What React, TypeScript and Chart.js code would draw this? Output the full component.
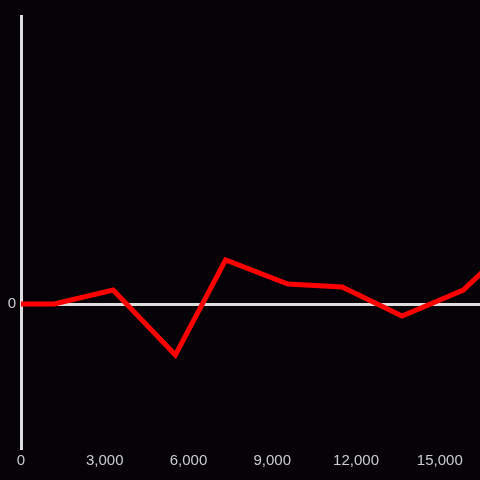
import React, { useEffect, useRef } from "react";
import { Chart, registerables } from "chart.js";

Chart.register(...registerables);

const xValues = [0, 1190, 3300, 5530, 7330, 9560, 11500, 13650, 15840, 16900];
const yValues = [0, 0, 0.097, -0.354, 0.306, 0.139, 0.118, -0.083, 0.097, 0.29];
const xTicks = [0, 3000, 6000, 9000, 12000, 15000];
const xMax = 16440;
const yMin = -1;
const yMax = 2;

export default function App() {
  const ref = useRef<HTMLCanvasElement | null>(null);
  useEffect(() => {
    document.body.style.margin = "0";
    document.body.style.background = "#050308";
    const ctx = ref.current!;
    const chart = new Chart(ctx, {
      type: "line",
      data: {
        datasets: [
          {
            data: xValues.map((x, i) => ({ x, y: yValues[i] })),
            borderColor: "#ff0000",
            borderWidth: 5,
            pointRadius: 0,
            tension: 0,
            fill: false,
          },
        ],
      },
      options: {
        animation: false,
        responsive: false,
        maintainAspectRatio: false,
        layout: { padding: { top: 16, right: 0, left: 0, bottom: 0 } },
        plugins: { legend: { display: false }, tooltip: { enabled: false } },
        scales: {
          x: {
            type: "linear",
            min: 0,
            max: xMax,
            grid: { display: false, drawTicks: false },
            border: { display: false },
            afterBuildTicks: (s: any) => {
              s.ticks = xTicks.map((v) => ({ value: v }));
            },
            ticks: {
              color: "#cccccc",
              font: { size: 15, family: "Liberation Sans, Arial, sans-serif" },
              padding: 4,
              maxRotation: 0,
              autoSkip: false,
              callback: (v: any) => Number(v).toLocaleString("en-US"),
            },
            afterFit: (s: any) => {
              s.height = 32;
              s.paddingLeft = 0;
              s.paddingRight = 0;
            },
          },
          y: {
            min: yMin,
            max: yMax,
            grid: {
              drawTicks: false,
              color: (c: any) => (c.tick && c.tick.value === 0 ? "#dddddd" : "rgba(0,0,0,0)"),
              lineWidth: 3,
            },
            border: { display: true, color: "#dddddd", width: 3 },
            ticks: {
              stepSize: 1,
              color: "#cccccc",
              font: { size: 15, family: "Liberation Sans, Arial, sans-serif" },
              padding: 5,
              callback: (v: any) => (Number(v) === 0 ? "0" : ""),
            },
            afterFit: (s: any) => {
              s.width = 21;
            },
          },
        },
      },
    });
    return () => chart.destroy();
  }, []);
  return (
    <div style={{ width: 480, height: 480, background: "#050308" }}>
      <canvas ref={ref} width={480} height={480} style={{ display: "block" }} />
    </div>
  );
}
